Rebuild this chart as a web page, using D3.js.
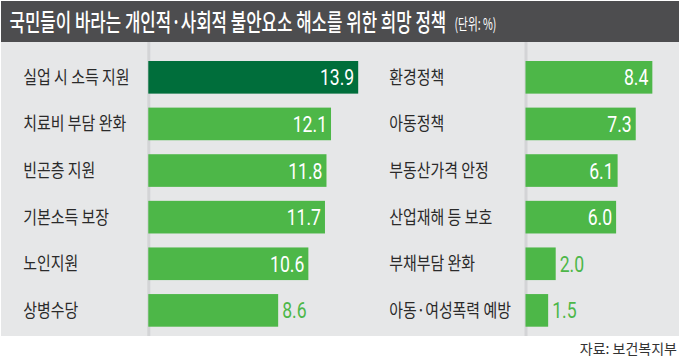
<!DOCTYPE html>
<html><head><meta charset="utf-8">
<script src="https://cdn.jsdelivr.net/npm/d3@7"></script>
<style>
html,body{margin:0;padding:0;background:#fff;}
svg{display:block;}
</style></head>
<body>
<script>
const titleText = "국민들이 바라는 개인적·사회적 불안요소 해소를 위한 희망 정책";
const unitText = "(단위: %)";
const sourceText = "자료: 보건복지부";
const leftCategories = ["실업 시 소득 지원","치료비 부담 완화","빈곤층 지원","기본소득 보장","노인지원","상병수당"];
const leftValues = [13.9,12.1,11.8,11.7,10.6,8.6];
const rightCategories = ["환경정책","아동정책","부동산가격 안정","산업재해 등 보호","부채부담 완화","아동·여성폭력 예방"];
const rightValues = [8.4,7.3,6.1,6.0,2.0,1.5];

const W = 680, H = 358;
const svg = d3.select("body").append("svg").attr("width", W).attr("height", H);

const C = {
  title: "#4d4d4f", panel: "#e6e7e8", dark: "#006e3b", green: "#4db748",
  label: "#2a2a2a", line: "#d3d4d6"
};
const KR = "'Noto Sans CJK KR','Noto Sans',sans-serif";
const NUM = "Roboto,'Liberation Sans',sans-serif";

// background areas
svg.append("rect").attr("x",1).attr("y",1).attr("width",W-2).attr("height",41).attr("fill",C.title);
svg.append("rect").attr("x",1).attr("y",42).attr("width",W-2).attr("height",294).attr("fill",C.panel);

// fit a text horizontally into a target width by scaling
function fitText(sel, x0, y0, target){
  const L = sel.node().getComputedTextLength();
  sel.attr("transform", `translate(${x0},${y0}) scale(${target/L},1)`);
}

// title
const t1 = svg.append("text")
  .attr("font-family",KR).attr("font-size",24).attr("font-weight",500).attr("fill","#fff")
  .text(titleText);
fitText(t1, 9.5, 30.5, 437);
const t2 = svg.append("text")
  .attr("font-family",KR).attr("font-size",16).attr("fill","#fff")
  .text(unitText);
fitText(t2, 454.5, 30, 42);

// shared scales
const x = d3.scaleLinear().domain([0,14]).range([0,211.4]);
function rowScale(cats){
  return d3.scaleBand().domain(cats).range([61,326.7]).paddingInner(0.3).paddingOuter(0);
}
const topValue = d3.max(leftValues.concat(rightValues));

function panel(cats, vals, x0, labelX){
  const y = rowScale(cats);
  const max = d3.max(vals);
  const g = svg.append("g");
  g.append("rect").attr("x",x0-1).attr("y",42).attr("width",3).attr("height",294).attr("fill",C.line);
  const data = cats.map((c,i)=>({c, v: vals[i], i}));
  const inside = d => d.v/max >= 0.7;
  g.selectAll("rect.bar").data(data).join("rect").attr("class","bar")
    .attr("x",x0).attr("y",d=>y(d.c)).attr("width",d=>x(d.v)).attr("height",y.bandwidth())
    .attr("fill",d=>d.v===topValue?C.dark:C.green);
  g.selectAll("text.lab").data(data).join("text").attr("class","lab")
    .attr("transform",d=>`translate(${labelX},${y(d.c)+y.bandwidth()/2+6.5}) scale(0.83,1)`)
    .attr("font-family",KR).attr("font-size",18).attr("fill",C.label)
    .text(d=>d.c);
  g.selectAll("text.val").data(data).join("text").attr("class","val")
    .attr("transform",d=>{
      const tx = inside(d) ? x0 + x(d.v) - 4 : x0 + x(d.v) + 4;
      return `translate(${tx},${y(d.c)+y.bandwidth()/2+8}) scale(0.8,1)`;
    })
    .attr("text-anchor",d=> inside(d) ? "end" : "start")
    .attr("font-family",NUM).attr("font-size",22).attr("fill",d=> inside(d) ? "#fff" : C.green)
    .text(d=>d3.format(".1f")(d.v));
}

panel(leftCategories, leftValues, 148.3, 23.3);
panel(rightCategories, rightValues, 525.5, 389.3);

// source
svg.append("text").attr("x",677).attr("y",353.5).attr("text-anchor","end")
  .attr("font-family",KR).attr("font-size",14).attr("fill","#333")
  .text(sourceText);
</script>
</body></html>
